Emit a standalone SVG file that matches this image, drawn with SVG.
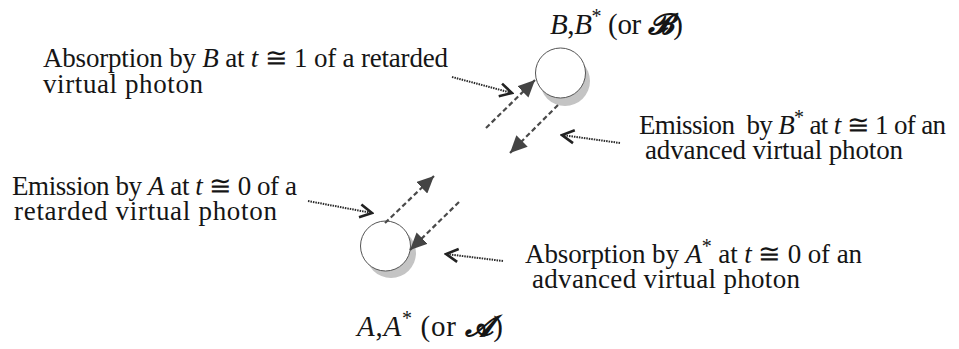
<svg xmlns="http://www.w3.org/2000/svg" width="959" height="349" viewBox="0 0 959 349">
<style>
text{font-family:"Liberation Serif","DejaVu Serif",serif;font-size:27px;fill:#151515}
.lbl{font-size:29px}
.i{font-style:italic}
.sup{font-size:20px}
.bi{font-style:italic;font-weight:bold;font-family:"DejaVu Serif","Liberation Serif","Noto Sans",serif}
.shadow{fill:#c4c4c4;stroke:none}
.disc{fill:#fff;stroke:#555;stroke-width:1}
.ph{stroke:#4a4a4a;stroke-width:2.2;stroke-dasharray:5 3;fill:none;marker-end:url(#tri)}
.ptr{stroke:#2a2a2a;stroke-width:2;stroke-dasharray:1.5 1;fill:none;marker-end:url(#chev)}
</style>
<defs>
<marker id="tri" markerUnits="userSpaceOnUse" markerWidth="18" markerHeight="16" refX="17" refY="8" orient="auto" viewBox="0 0 18 16">
<path d="M0,0 L17,8 L0,16 z" fill="#444"/>
</marker>
<marker id="chev" markerUnits="userSpaceOnUse" markerWidth="16" markerHeight="16" refX="14" refY="8" orient="auto" viewBox="0 0 16 16">
<path d="M2,1.5 L14,8 L2,14.5" fill="none" stroke="#222" stroke-width="2.6"/>
</marker>
</defs>

<g id="nodeB">
<circle class="shadow" cx="565" cy="81" r="25"/>
<circle class="disc" cx="560.5" cy="73" r="25"/>
<text class="lbl" x="550" y="34" textLength="133" lengthAdjust="spacing"><tspan class="i">B</tspan>,<tspan class="i">B</tspan><tspan class="sup" dy="-11">*</tspan><tspan dy="11"> (or </tspan><tspan class="bi">𝓑</tspan>)</text>
</g>

<g id="nodeA">
<circle class="shadow" cx="391" cy="253" r="25"/>
<circle class="disc" cx="385.5" cy="246" r="25"/>
<text class="lbl" x="357" y="336" textLength="146" lengthAdjust="spacing"><tspan class="i">A</tspan>,<tspan class="i">A</tspan><tspan class="sup" dy="-11">*</tspan><tspan dy="11"> (or </tspan><tspan class="bi">𝓐</tspan>)</text>
</g>

<g id="noteB-abs">
<text x="43" y="67" textLength="405" lengthAdjust="spacing">Absorption by <tspan class="i">B</tspan> at <tspan class="i">t</tspan> ≅ 1 of a retarded</text>
<text x="43" y="93" textLength="160" lengthAdjust="spacing">virtual photon</text>
</g>

<g id="noteB-em">
<text x="639" y="134" textLength="307" lengthAdjust="spacing">Emission&#160; by <tspan class="i">B</tspan><tspan class="sup" dy="-10">*</tspan><tspan dy="10"> at </tspan><tspan class="i">t</tspan> ≅ 1 of an</text>
<text x="645" y="159" textLength="258" lengthAdjust="spacing">advanced virtual photon</text>
</g>

<g id="noteA-em">
<text x="12" y="195" textLength="285" lengthAdjust="spacing">Emission by <tspan class="i">A</tspan> at <tspan class="i">t</tspan> ≅ 0 of a</text>
<text x="14" y="220" textLength="263" lengthAdjust="spacing">retarded virtual photon</text>
</g>

<g id="noteA-abs">
<text x="525" y="263" textLength="337" lengthAdjust="spacing">Absorption by <tspan class="i">A</tspan><tspan class="sup" dy="-10">*</tspan><tspan dy="10"> at </tspan><tspan class="i">t</tspan> ≅ 0 of an</text>
<text x="532" y="288" textLength="268" lengthAdjust="spacing">advanced virtual photon</text>
</g>

<g id="connectors">
<line class="ph" x1="486" y1="128" x2="535" y2="80"/>
<line class="ph" x1="558" y1="105" x2="510" y2="153"/>
<line class="ph" x1="385" y1="223" x2="434" y2="176"/>
<line class="ph" x1="459" y1="202" x2="410" y2="250"/>
<line class="ptr" x1="452" y1="77" x2="512" y2="93"/>
<line class="ptr" x1="620" y1="143" x2="562" y2="135"/>
<line class="ptr" x1="308" y1="201" x2="372" y2="213"/>
<line class="ptr" x1="503" y1="261" x2="446" y2="254"/>
</g>
</svg>
